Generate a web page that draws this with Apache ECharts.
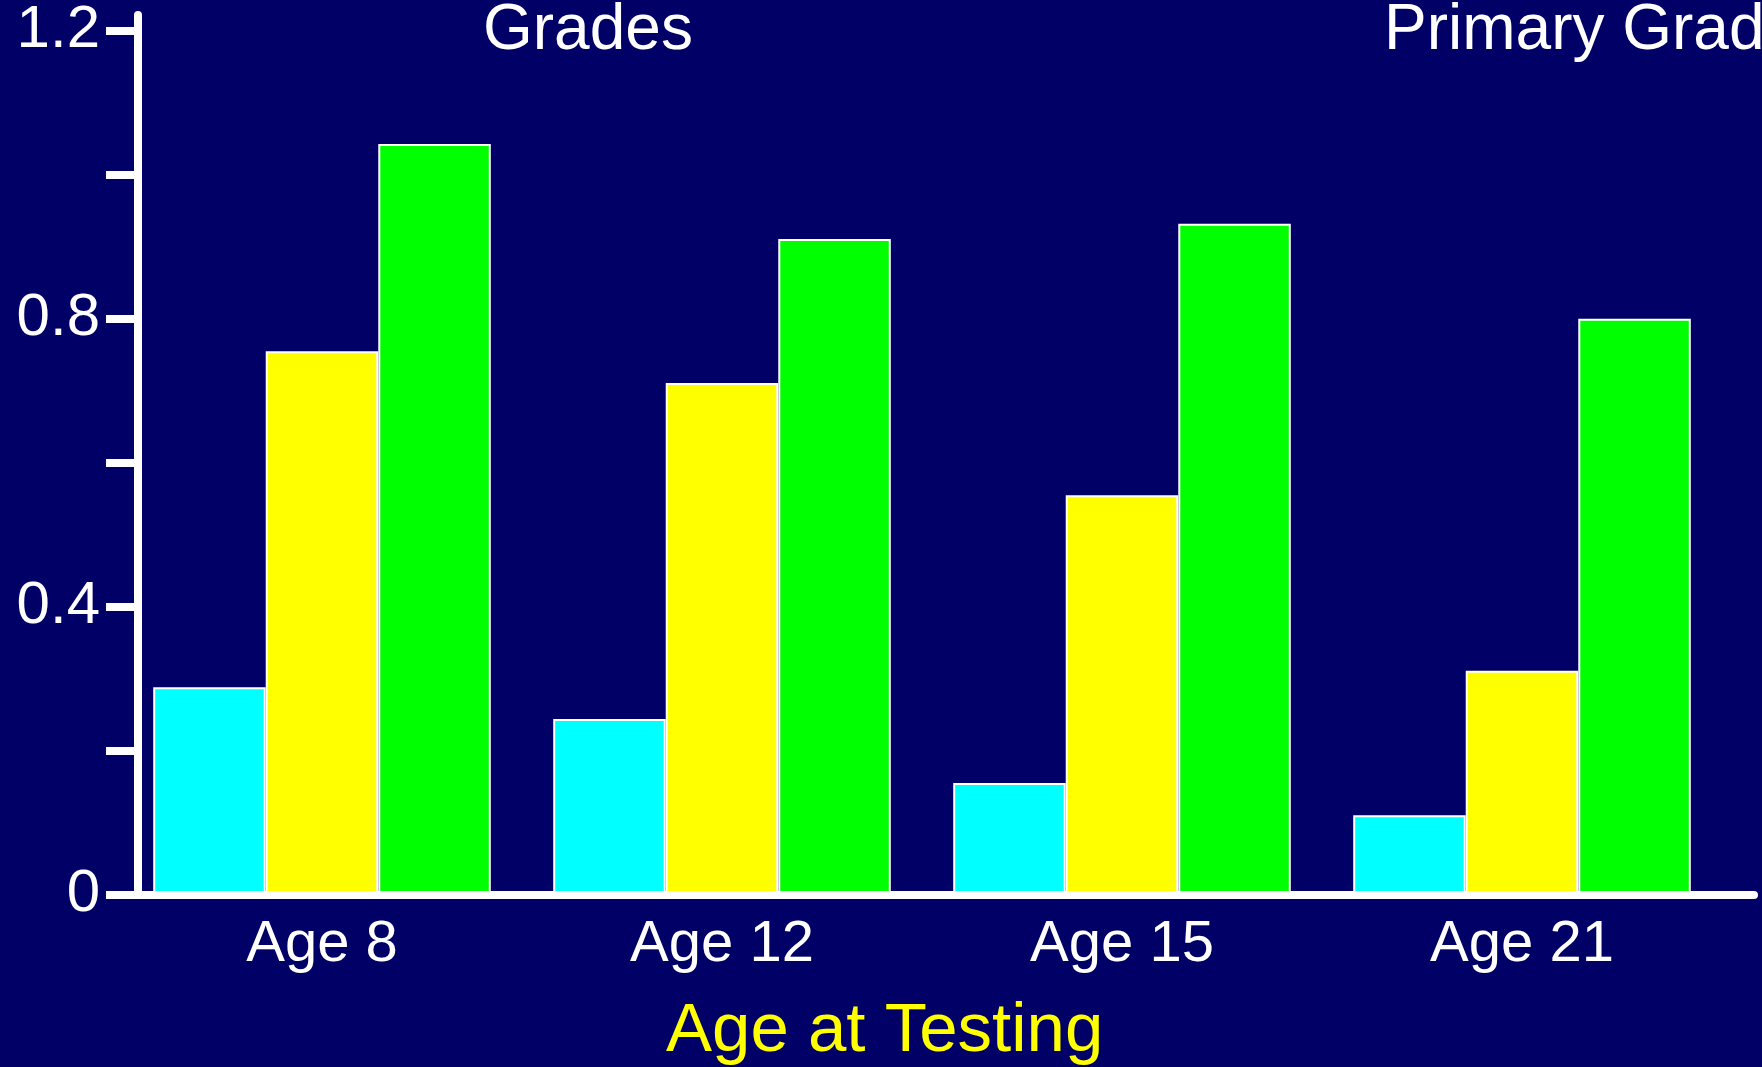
<!DOCTYPE html>
<html>
<head>
<meta charset="utf-8">
<script src="https://cdn.jsdelivr.net/npm/echarts@6/dist/echarts.min.js"></script>
<style>
  html, body { margin: 0; padding: 0; background: #000066; }
  #chart { width: 1762px; height: 1067px; }
</style>
</head>
<body>
<div id="chart"></div>
<script>
var ages = ["Age 8", "Age 12", "Age 15", "Age 21"];
var cyanValues = [0.288, 0.244, 0.155, 0.110];
var yellowValues = [0.755, 0.711, 0.555, 0.311];
var greenValues = [1.043, 0.911, 0.932, 0.800];
var yTicks = [0, 0.2, 0.4, 0.6, 0.8, 1.0, 1.2];
var yLabels = [0, 0.4, 0.8, 1.2];

var font = "Liberation Sans, Arial, sans-serif";
var chart = echarts.init(document.getElementById("chart"));

function barSeries(name, color, values) {
  return {
    name: name,
    type: "bar",
    xAxisIndex: 0,
    yAxisIndex: 0,
    barGap: 0,
    barCategoryGap: "15.6%",
    itemStyle: { color: color, borderColor: "#ffffff", borderWidth: 2 },
    data: values
  };
}

var option = {
  backgroundColor: "#000066",
  animation: false,
  title: [
    {
      text: "Grades", left: 483, top: -1, padding: 0,
      textStyle: { color: "#ffffff", fontSize: 64, fontWeight: "normal", fontFamily: font }
    },
    {
      text: "Primary Grad", left: 1384, top: -1, padding: 0,
      textStyle: { color: "#ffffff", fontSize: 64, fontWeight: "normal", fontFamily: font }
    },
    {
      text: "Age at Testing", left: 666, top: 997, padding: 0,
      textStyle: { color: "#ffff00", fontSize: 69, fontWeight: "normal", fontFamily: font }
    }
  ],
  grid: [
    { left: 122, right: 40, top: 31, bottom: 172.5 },
    { left: 138, right: 8, top: 15, bottom: 172.5 }
  ],
  xAxis: [
    {
      type: "category",
      gridIndex: 0,
      data: ages,
      axisLine: { show: false },
      axisTick: { show: false },
      axisLabel: { color: "#ffffff", fontSize: 58, fontFamily: font, margin: 21 }
    },
    {
      type: "value",
      gridIndex: 1,
      min: 0, max: 1,
      z: 10,
      axisLine: { show: true, lineStyle: { color: "#ffffff", width: 8 } },
      axisTick: { show: false },
      axisLabel: { show: false },
      splitLine: { show: false }
    }
  ],
  yAxis: [
    {
      type: "value",
      gridIndex: 0,
      min: 0, max: 1.2,
      show: false
    },
    {
      type: "value",
      gridIndex: 1,
      min: 0, max: 1.222,
      z: 10,
      axisLine: { show: true, lineStyle: { color: "#ffffff", width: 8 } },
      axisTick: {
        show: true, length: 32, customValues: yTicks,
        lineStyle: { color: "#ffffff", width: 8 }
      },
      axisLabel: {
        customValues: yLabels,
        color: "#ffffff", fontSize: 60, fontFamily: font, margin: 38,
        formatter: function (v) { return String(v); }
      },
      splitLine: { show: false }
    }
  ],
  series: [
    barSeries("Low", "#00ffff", cyanValues),
    barSeries("Middle", "#ffff00", yellowValues),
    barSeries("High", "#00ff00", greenValues)
  ]
};

chart.setOption(option);
</script>
</body>
</html>
